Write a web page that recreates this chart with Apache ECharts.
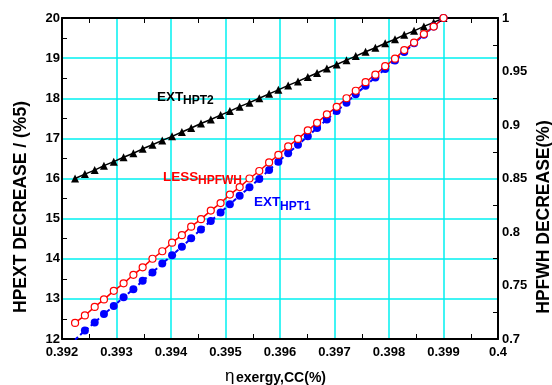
<!DOCTYPE html>
<html>
<head>
<meta charset="utf-8">
<script src="https://cdn.jsdelivr.net/npm/echarts@6/dist/echarts.min.js"></script>
<style>
    html, body { margin: 0; padding: 0; background: #fff; }
    #chart { width: 552px; height: 385px; }
</style>
</head>
<body>
<div id="chart"></div>
<script>
// x values (eta exergy, CC)
const etaValues = [
    0.39224, 0.39242, 0.39260, 0.39277, 0.39295, 0.39313, 0.39331, 0.39348, 0.39366, 0.39384,
    0.39402, 0.39420, 0.39437, 0.39455, 0.39473, 0.39491, 0.39508, 0.39526, 0.39544, 0.39562,
    0.39580, 0.39597, 0.39615, 0.39633, 0.39651, 0.39668, 0.39686, 0.39704, 0.39722, 0.39739,
    0.39757, 0.39775, 0.39793, 0.39811, 0.39828, 0.39846, 0.39864, 0.39882, 0.39900
];

// EXT HPT2, left axis
const extHpt2 = [
    16.00, 16.11, 16.21, 16.32, 16.42, 16.53, 16.63, 16.74, 16.84, 16.95,
    17.05, 17.16, 17.26, 17.37, 17.47, 17.58, 17.68, 17.79, 17.89, 18.00,
    18.11, 18.21, 18.32, 18.42, 18.53, 18.63, 18.74, 18.84, 18.95, 19.05,
    19.16, 19.26, 19.37, 19.47, 19.58, 19.68, 19.79, 19.89, 20.00
];

// EXT HPT1, left axis
const extHpt1 = [
    11.98, 12.21, 12.41, 12.62, 12.82, 13.04, 13.24, 13.45, 13.66, 13.88,
    14.09, 14.30, 14.51, 14.73, 14.94, 15.15, 15.36, 15.57, 15.78, 15.99,
    16.21, 16.42, 16.63, 16.84, 17.05, 17.26, 17.47, 17.68, 17.89, 18.10,
    18.31, 18.52, 18.73, 18.94, 19.15, 19.37, 19.58, 19.79, 20.00
];

// LESS HPFWH, right axis
const lessHpfwh = [
    0.715, 0.722, 0.730, 0.737, 0.745, 0.752, 0.760, 0.767, 0.775, 0.782,
    0.790, 0.797, 0.805, 0.812, 0.820, 0.827, 0.835, 0.842, 0.850, 0.857,
    0.865, 0.872, 0.880, 0.887, 0.895, 0.902, 0.910, 0.917, 0.925, 0.932,
    0.940, 0.947, 0.955, 0.962, 0.970, 0.977, 0.985, 0.992, 1.000
];

const FONT = '"Liberation Sans", Arial, sans-serif';
const CYAN = "#00f0f0";

const chart = echarts.init(document.getElementById("chart"));

const pairs = (ys) => etaValues.map((x, i) => [x, ys[i]]);

const minorTick = { show: true, splitNumber: 2, length: 5, lineStyle: { color: "#000", width: 1 } };
const blackLine = { show: true, onZero: false, lineStyle: { color: "#000", width: 2 } };
const label = { color: "#000", fontFamily: FONT, fontWeight: "bold", fontSize: 13 };

// a plain graphic text drawn above the plot
const txt = (text, x, y, font, fill, extra) => ({
    type: "text",
    x: x,
    y: y,
    z: 100,
    ...(extra || {}),
    style: { text: text, font: font, fill: fill, verticalAlign: "middle", align: (extra && extra.align) || "left" },
});

const option = {
    animation: false,
    grid: { left: 62, right: 54, top: 18, bottom: 46 },
    xAxis: [
        {
            type: "value",
            min: 0.392,
            max: 0.4,
            interval: 0.001,
            position: "bottom",
            axisLine: blackLine,
            axisTick: { show: false, inside: true },
            minorTick: minorTick,
            axisLabel: { ...label, margin: 7, formatter: (v) => (Math.abs(v - 0.4) < 1e-9 ? "0.4" : v.toFixed(3)) },
            splitLine: { show: true, lineStyle: { color: CYAN, width: 1.5 } },
        },
        {
            type: "value",
            min: 0.392,
            max: 0.4,
            interval: 0.001,
            position: "top",
            axisLine: blackLine,
            axisTick: { show: false, inside: true },
            minorTick: minorTick,
            axisLabel: { show: false },
            splitLine: { show: false },
        },
    ],
    yAxis: [
        {
            type: "value",
            min: 12,
            max: 20,
            interval: 1,
            position: "left",
            axisLine: blackLine,
            axisTick: { show: false, inside: true },
            minorTick: minorTick,
            axisLabel: { ...label, margin: 2 },
            splitLine: { show: true, lineStyle: { color: CYAN, width: 1.5 } },
        },
        {
            type: "value",
            min: 0.7,
            max: 1,
            interval: 0.05,
            position: "right",
            axisLine: blackLine,
            axisTick: { show: false, inside: true },
            minorTick: minorTick,
            axisLabel: { ...label, margin: 4 },
            splitLine: { show: false },
        },
    ],
    series: [
        {
            name: "EXT HPT2",
            type: "line",
            yAxisIndex: 0,
            data: pairs(extHpt2),
            symbol: "triangle",
            symbolSize: 8,
            itemStyle: { color: "#000" },
            lineStyle: { color: "#000", width: 1.5 },
            clip: true,
        },
        {
            name: "EXT HPT1",
            type: "line",
            yAxisIndex: 0,
            data: pairs(extHpt1),
            symbol: "circle",
            symbolSize: 8,
            itemStyle: { color: "#0000ff" },
            lineStyle: { color: "#0000ff", width: 2, type: [4, 3] },
            clip: true,
        },
        {
            name: "LESS HPFWH",
            type: "line",
            yAxisIndex: 1,
            data: pairs(lessHpfwh),
            symbol: "circle",
            symbolSize: 7,
            itemStyle: { color: "#fff", borderColor: "#ff0000", borderWidth: 1.2 },
            lineStyle: { color: "#ff0000", width: 1.5 },
            clip: true,
        },
    ],
    graphic: [
        // series labels with subscripts
        txt("EXT", 157, 97, "bold 13.5px " + FONT, "#000"),
        txt("HPT2", 183, 100.5, "bold 12px " + FONT, "#000"),
        txt("LESS", 163, 177, "bold 13.5px " + FONT, "#ff0000"),
        txt("HPFWH", 198, 181, "bold 12px " + FONT, "#ff0000"),
        txt("EXT", 254, 202.5, "bold 13.5px " + FONT, "#0000ff"),
        txt("HPT1", 280, 207, "bold 12px " + FONT, "#0000ff"),
        // axis titles
        txt("HPEXT DECREASE / (%5)", 21, 207, "bold 17.5px " + FONT, "#000", { rotation: Math.PI / 2, align: "center" }),
        txt("HPFWH DECREASE(%)", 544, 217, "bold 17.5px " + FONT, "#000", { rotation: Math.PI / 2, align: "center" }),
        txt("η", 225, 376, "17px " + FONT, "#000"),
        txt("exergy,CC(%)", 236, 378, "bold 14px " + FONT, "#000"),
    ],
};

chart.setOption(option);
</script>
</body>
</html>
